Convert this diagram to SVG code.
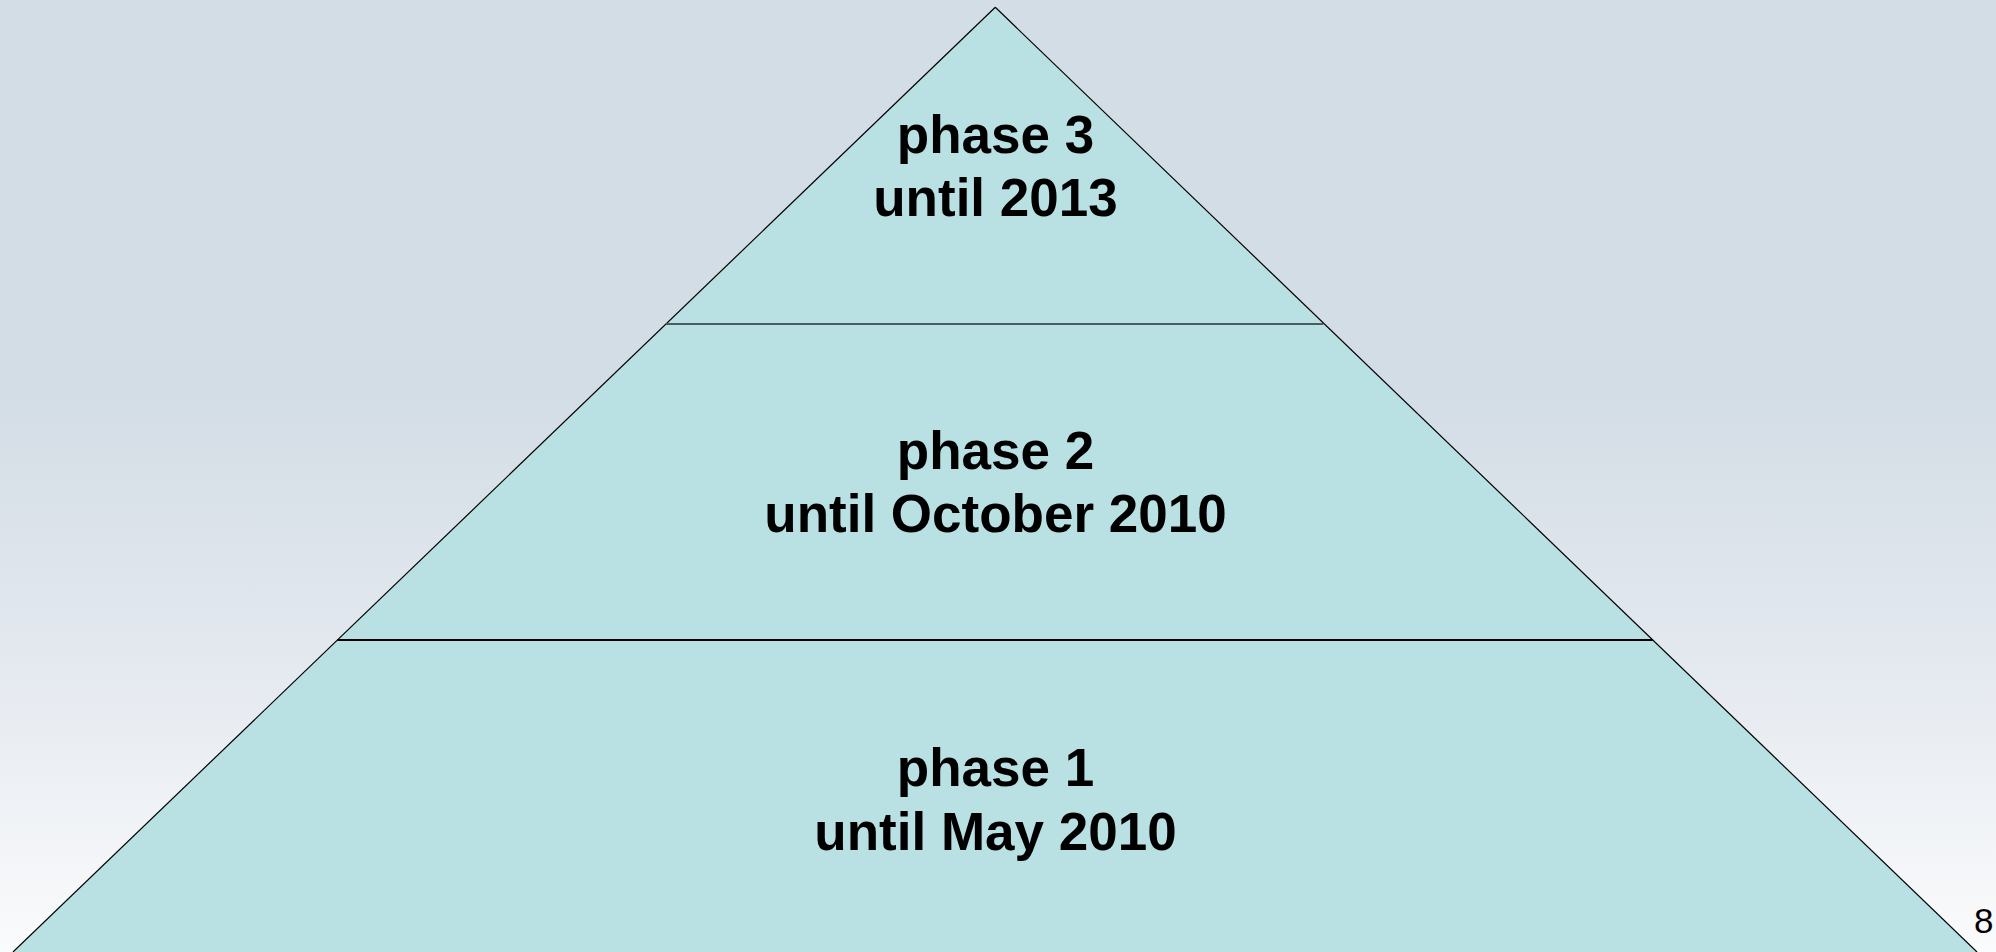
<svg xmlns="http://www.w3.org/2000/svg" width="1996" height="952" viewBox="0 0 1996 952">
  <defs>
    <linearGradient id="bg" x1="0" y1="0" x2="0" y2="1">
      <stop offset="0" stop-color="#d3dde5"/>
      <stop offset="0.41" stop-color="#d3dde5"/>
      <stop offset="0.68" stop-color="#e3e8ef"/>
      <stop offset="1" stop-color="#fafbfc"/>
    </linearGradient>
  </defs>
  <style>
    .tier { fill: #b9e0e3; stroke: none; }
    .label { font-family: "Liberation Sans", Arial, sans-serif; font-weight: bold; font-size: 53px; fill: #000; text-anchor: middle; }
    .edge { stroke: #000; stroke-width: 1.2; fill: none; }
  </style>
  <rect x="0" y="0" width="1996" height="952" fill="url(#bg)"/>
  <g id="phase3">
    <polygon class="tier" points="995.3,7.3 1323.3,324 666,324"/>
    <text class="label" x="995.5" y="153">phase 3</text>
    <text class="label" x="995.5" y="216">until 2013</text>
  </g>
  <g id="phase2">
    <polygon class="tier" points="666,324 1323.3,324 1652.7,640 337.3,640"/>
    <text class="label" x="995.5" y="469">phase 2</text>
    <text class="label" x="995.5" y="532">until October 2010</text>
  </g>
  <g id="phase1">
    <polygon class="tier" points="337.3,640 1652.7,640 1977,952 13,952"/>
    <text class="label" x="995.5" y="786">phase 1</text>
    <text class="label" x="995.5" y="850">until May 2010</text>
  </g>
  <g id="connectors">
    <line class="edge" x1="995.3" y1="7.3" x2="13" y2="952"/>
    <line class="edge" x1="995.3" y1="7.3" x2="1977" y2="952"/>
    <line x1="666" y1="324" x2="1323.3" y2="324" stroke="#4d5a5e" stroke-width="2.2"/>
    <line x1="337.3" y1="640" x2="1652.7" y2="640" stroke="#000" stroke-width="2.2"/>
  </g>
  <text x="1974" y="933" font-family="Liberation Sans, Arial, sans-serif" font-size="35" fill="#000">8</text>
</svg>
